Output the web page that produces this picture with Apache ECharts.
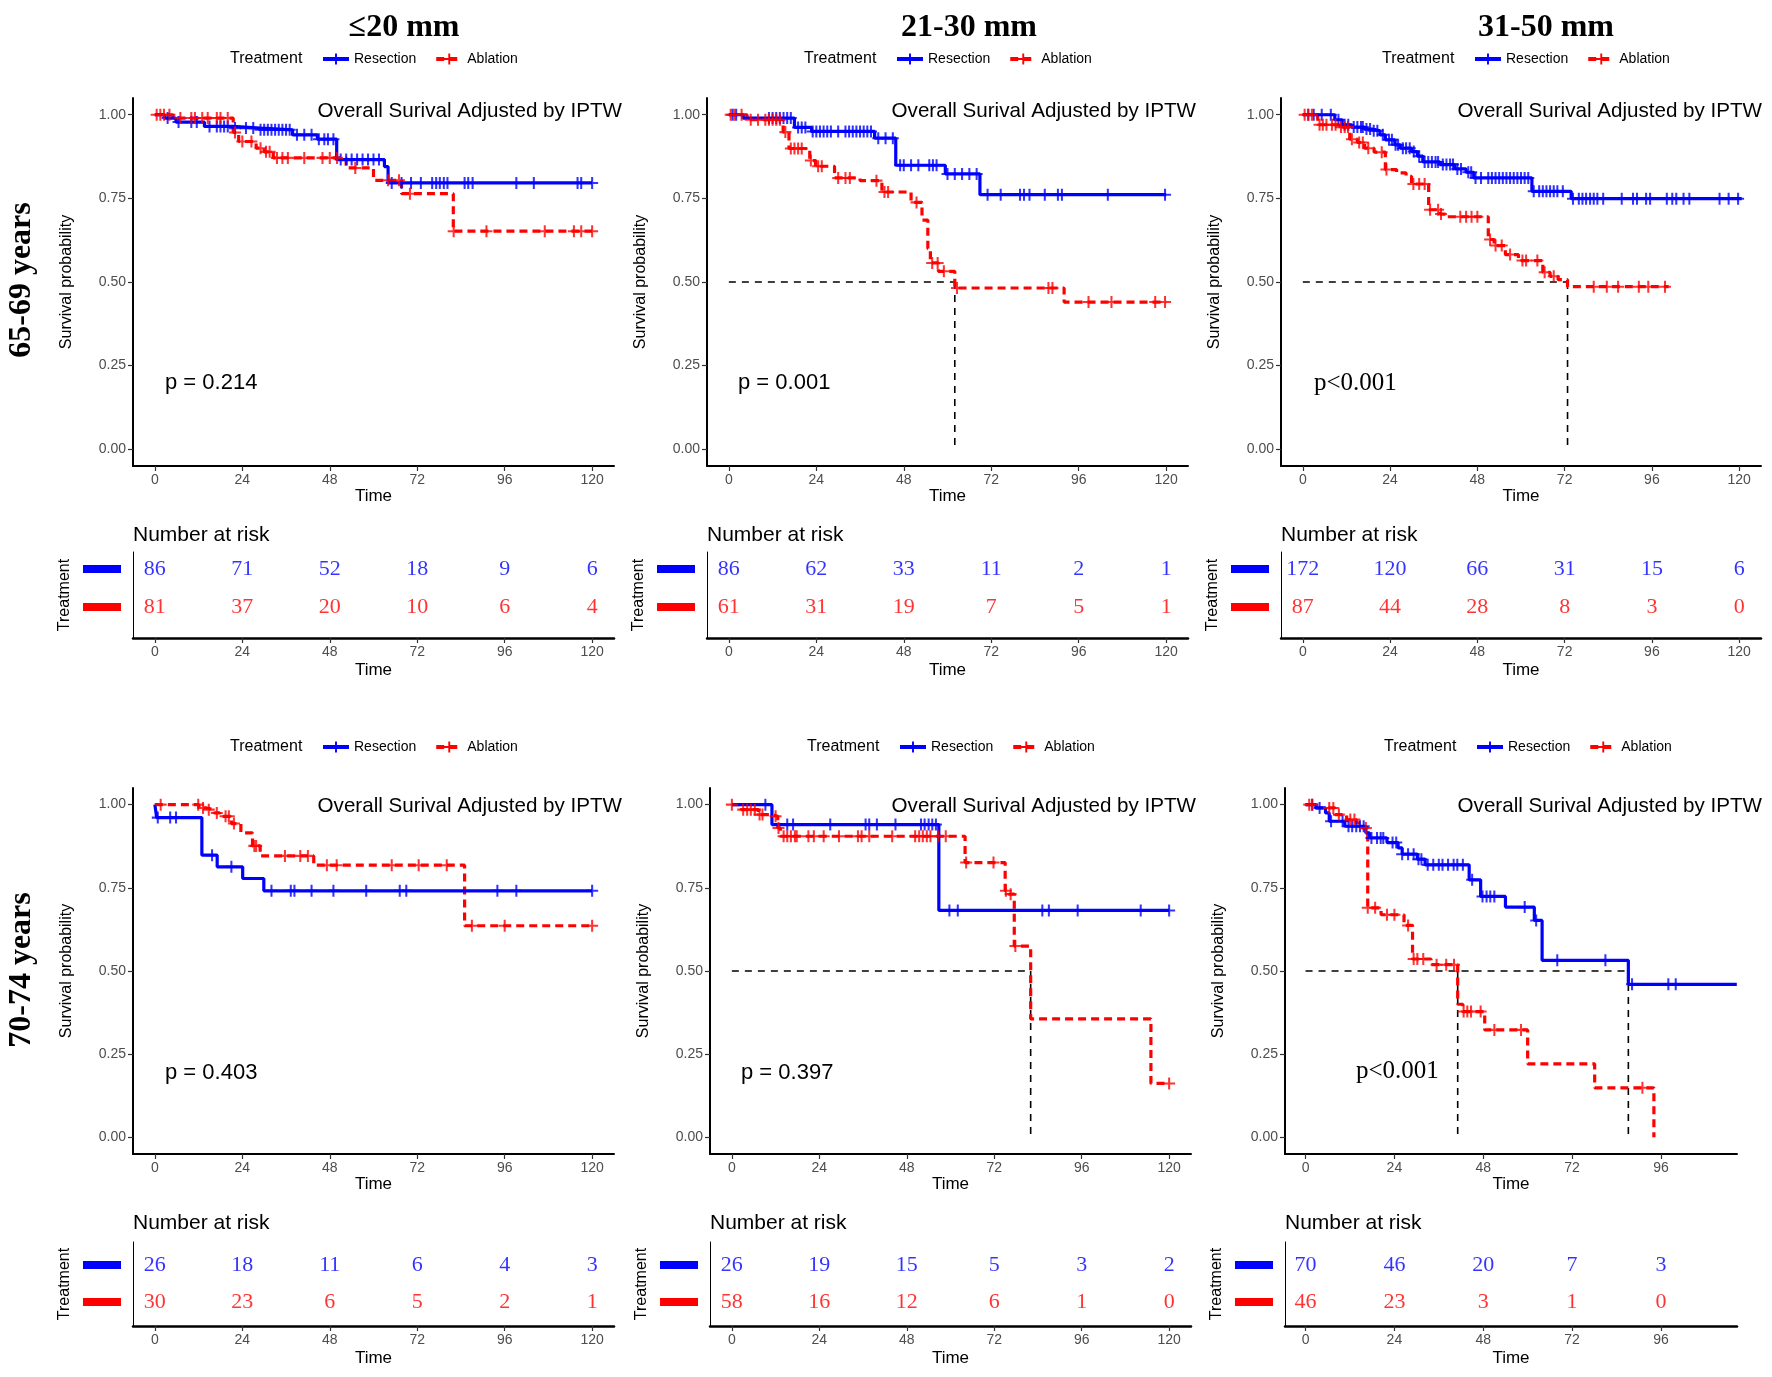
<!DOCTYPE html>
<html><head><meta charset="utf-8">
<script src="https://cdn.jsdelivr.net/npm/echarts@6/dist/echarts.min.js"></script>
<style>html,body{margin:0;padding:0;background:#fff}#c{width:1772px;height:1377px}</style>
</head><body><div id="c"></div>
<script>
// ---------------- DATA ----------------
const timeTicks = [0, 24, 48, 72, 96, 120];
const timeTicksF = [0, 24, 48, 72, 96];
const survTicks = [0, 0.25, 0.5, 0.75, 1];
const sizeTitles = ['≤20 mm', '21-30 mm', '31-50 mm'];
const ageTitles = ['65-69 years', '70-74 years'];
const groupNames = ['Resection', 'Ablation'];
const pValues = ['p = 0.214', 'p = 0.001', 'p<0.001', 'p = 0.403', 'p = 0.397', 'p<0.001'];

// Kaplan-Meier step curves: [time, survival]
const resA = [[0,1],[2.6,0.99],[5.8,0.978],[13.6,0.965],[21.5,0.96],[28.9,0.955],[37.8,0.94],[44.6,0.927],[49.9,0.866],[63,0.845],[64,0.796],[120,0.796]];
const ablA = [[0,1],[5,0.99],[21.5,0.947],[23,0.92],[27.8,0.90],[30,0.889],[32.5,0.871],[52.5,0.841],[60,0.804],[67.7,0.764],[81.9,0.652],[120,0.652]];
const resB = [[0,1],[3.9,0.99],[18,0.962],[22.7,0.95],[40,0.93],[45.8,0.849],[59.4,0.823],[68.9,0.761],[120,0.761]];
const ablB = [[0,1],[5,0.985],[14.9,0.948],[16.5,0.899],[22.2,0.863],[23.8,0.846],[29,0.811],[36,0.803],[42,0.769],[50,0.738],[53,0.685],[54.6,0.6],[55.3,0.557],[57.5,0.532],[62,0.482],[92,0.44],[120,0.44]];
const resC = [[0,1],[8.8,0.985],[10.8,0.97],[13.4,0.963],[17,0.957],[19,0.952],[21.2,0.94],[22.7,0.925],[25.3,0.91],[26.8,0.90],[29.9,0.89],[31.5,0.876],[33,0.859],[37.7,0.851],[41.8,0.838],[44.9,0.828],[47,0.811],[63,0.771],[73.8,0.749],[120.7,0.749]];
const ablC = [[0,1],[4.1,0.97],[9.8,0.963],[12.9,0.927],[15,0.917],[17,0.90],[19.6,0.888],[22.7,0.836],[25.8,0.826],[28.4,0.816],[29.9,0.793],[34.6,0.716],[37.7,0.703],[39.5,0.695],[51,0.627],[52.6,0.609],[55.7,0.582],[59.3,0.564],[66,0.529],[68,0.517],[70.2,0.507],[72.8,0.486],[100.6,0.486]];
const resD = [[0,1],[0.5,0.961],[12.9,0.848],[17.1,0.813],[24.1,0.778],[29.9,0.741],[120,0.741]];
const ablD = [[0,1],[12.1,0.99],[14.2,0.985],[16.3,0.975],[17.8,0.965],[21,0.943],[23.6,0.915],[26.8,0.876],[28.9,0.846],[43.6,0.818],[85,0.636],[120,0.636]];
const resE = [[0,1],[11,0.94],[56.8,0.682],[120,0.682]];
const ablE = [[0,1],[2.6,0.985],[7.3,0.97],[10.5,0.965],[12.6,0.93],[13.3,0.905],[64,0.826],[75,0.741],[76,0.731],[77.5,0.575],[82,0.356],[115,0.162],[120,0.162]];
const resF = [[0,1],[2.8,0.99],[5.4,0.975],[6.4,0.95],[10.6,0.935],[16.3,0.915],[17.3,0.90],[22,0.886],[25,0.87],[26.1,0.851],[30.2,0.836],[32.3,0.819],[44.2,0.774],[47.3,0.724],[54,0.692],[61.8,0.652],[63.9,0.532],[87.2,0.46],[116.5,0.46]];
const ablF = [[0,1],[2.3,0.99],[8,0.97],[11.1,0.955],[13.7,0.945],[15.2,0.93],[16.8,0.69],[20.4,0.669],[26.6,0.637],[28.9,0.536],[33.9,0.519],[41.1,0.40],[42.5,0.378],[48.4,0.323],[60,0.221],[78.1,0.149],[94.1,0]];

// censoring times
const resCensA = [3.5,6.5,10,11.5,15,17,18,19,20,22,25,27,29,30,31,32,33,34,35,36,37,39,41,43,45,46.5,47.5,49,51,52.5,54,55.5,57,58.5,60,61.5,65,67.7,70.3,73,76.1,77.2,78.2,79.3,80.3,85,86,87.2,99.2,104,116,117,120];
const ablCensA = [0.5,1.5,2.5,4,7,10,11,13,14.5,17,18,20,22,24,26.5,29,30.5,31.5,33.5,35,36.5,41,46,48,50,55,64,67,70,82,91,107,115,117,120];
const resCensB = [1,2,11,12,13,14,15,16,17,19,20,21,23,24,25,26,27,28,30,32,33,34,35,36,37,38,39,41,43,45,47,48,50,52,55,56,57,60,62,64,66,68,71,74.6,79.9,81,82.5,86.7,90.3,91.4,104,119.7];
const ablCensB = [0.5,1.5,3.5,6,8,10,11,12,13,14,15.5,17,18,19,20,22.5,24.5,25.5,30,32,33.2,40.5,42.7,43.7,51.5,55.8,57.3,59,62.6,87.7,88.8,98.7,105,117,119.7];
const resCensC = [1.5,3,5.2,7.7,9.8,11.5,12.5,14,15,16,16.5,17.5,18.5,19.5,20.5,22,23.7,24.5,25.5,26.2,27.5,28.4,29.4,30.5,32,33.5,34.5,35.5,36.5,37.2,38.5,39.5,40.5,41.3,42.5,43.5,45.5,46.3,47.5,49,51,52,53,54,55,56,57,58,59,60,61,62,63.5,65,66,67,68,69,70,71.5,74.3,75.9,76.9,77.9,79,80,81,82.6,87.7,90.8,91.9,94.4,95.5,100.1,101.6,102.7,104.7,106.3,114.6,117.1,119.7];
const ablCensC = [0.5,1.5,2.5,4.6,5.5,6.5,8,9,10.5,11.5,12.4,13.5,15.5,16.5,18,21.7,23,30.4,32,33.5,35,37.2,38,43.3,44.9,46.4,48,51.5,53,54.7,57,60.4,61.4,64.5,66.5,69,80,83.6,86.7,92.4,95,99.6];
const resCensD = [0.8,4.2,5.8,15.7,21,32,37.3,38.3,43,49,58,67.2,69,94,99.2,120];
const ablCensD = [1.6,11.9,13.2,14.8,17,19.4,20.3,21.7,27.3,27.8,35.7,39.9,42,47.2,49.9,65,72.4,80.1,87,96,120];
const resCensE = [9.2,15.2,16.8,27,36.7,37.7,39.8,44.9,51.9,52.9,54,55,56,59.7,62,85.2,87,94.9,112.2,120];
const ablCensE = [0,3.1,4.2,5.2,6.3,7.6,8.4,12,12.8,14.2,15.2,16.2,17.3,17.8,21,22.5,25.2,29.4,34.6,35.6,37.7,44,50.3,51.4,52.4,53.5,54.5,56.6,58.7,64.3,71.8,75.2,76.5,77.8,120];
const resCensF = [1.8,3.8,6.9,10,11.6,12.6,13.7,14.7,15.7,17.8,19.3,20.3,21,23.5,24.5,26.1,27.7,29.2,30.5,31.3,33,34.5,36,37,38.5,40,41,42.5,45,47.8,48.9,49.9,51,59.2,62.3,68,81,88.2,98,100];
const ablCensF = [1,1.8,6.4,7.5,9,12.1,13.2,16.3,16.8,18.8,22,24,27.7,29.2,30.2,31.8,35.4,38,40.1,42.7,43.7,44.7,47.3,51,58.2,91];

// median survival times (dashed reference lines)
const medA = [], medB = [62], medC = [72.8], medD = [], medE = [82], medF = [41.1, 87.2];

// numbers at risk
const riskResA = [86,71,52,18,9,6],   riskAblA = [81,37,20,10,6,4];
const riskResB = [86,62,33,11,2,1],   riskAblB = [61,31,19,7,5,1];
const riskResC = [172,120,66,31,15,6], riskAblC = [87,44,28,8,3,0];
const riskResD = [26,18,11,6,4,3],    riskAblD = [30,23,6,5,2,1];
const riskResE = [26,19,15,5,3,2],    riskAblE = [58,16,12,6,1,0];
const riskResF = [70,46,20,7,3],      riskAblF = [46,23,3,1,0];

// ---------------- LAYOUT / STYLE ----------------
const BLUE = '#0000ff', RED = '#ff0000';
const SANS = '"Liberation Sans", Arial, sans-serif';
const SERIF = '"Liberation Serif", "Times New Roman", serif';
const PLUS = 'path://M-1,-0.17H1V0.17H-1Z M-0.17,-1H0.17V1H-0.17Z';
const L = {
  mainLeft: [[133, 707, 1281], [133, 710, 1285]],
  mainWidth: [[481, 481, 480], [481, 481, 452]],
  mainTop: [98, 788], mainHeight: [368, 366],
  tabTop: [552, 1242], tabHeight: [86, 84],
  tabY: [[0.18, 2.45], [0.35, 2.62]],
  legIcon: [[321, 895, 1473], [321, 898, 1475]], legY: [59, 747],
  pPos: [[165, 383], [738, 383], [1314, 383], [165, 1073], [741, 1073], [1356, 1071]],
  ovsRight: [622, 1196, 1762], ovsY: [111, 806],
  nrY: [535, 1223],
  colTitleX: [404, 969, 1546], colTitleY: 28,
  rowLabelX: 22, rowLabelY: [280, 970]
};
const rangeStd = [-6, 126], rangeF = [-5.55, 116.55];

const panels = [
  {res: resA, abl: ablA, rc: resCensA, ac: ablCensA, med: medA, rr: riskResA, ra: riskAblA, ticks: timeTicks, range: rangeStd},
  {res: resB, abl: ablB, rc: resCensB, ac: ablCensB, med: medB, rr: riskResB, ra: riskAblB, ticks: timeTicks, range: rangeStd},
  {res: resC, abl: ablC, rc: resCensC, ac: ablCensC, med: medC, rr: riskResC, ra: riskAblC, ticks: timeTicks, range: rangeStd},
  {res: resD, abl: ablD, rc: resCensD, ac: ablCensD, med: medD, rr: riskResD, ra: riskAblD, ticks: timeTicks, range: rangeStd},
  {res: resE, abl: ablE, rc: resCensE, ac: ablCensE, med: medE, rr: riskResE, ra: riskAblE, ticks: timeTicks, range: rangeStd},
  {res: resF, abl: ablF, rc: resCensF, ac: ablCensF, med: medF, rr: riskResF, ra: riskAblF, ticks: timeTicksF, range: rangeF}
];

function survAt(curve, t) {
  let v = curve[0][1];
  for (const p of curve) { if (p[0] <= t) v = p[1]; else break; }
  return v;
}

const grids = [], xAxes = [], yAxes = [], series = [], legends = [], graphics = [];
const tickLabel = {color: '#4d4d4d', fontSize: 14, fontFamily: SANS};

// main plots: indices 0..5
panels.forEach((P, i) => {
  const r = Math.floor(i / 3), c = i % 3;
  grids.push({left: L.mainLeft[r][c], top: L.mainTop[r], width: L.mainWidth[r][c], height: L.mainHeight[r], outerBoundsMode: 'none', containLabel: false});
  xAxes.push({gridIndex: i, type: 'value', min: P.range[0], max: P.range[1],
    axisLine: {show: true, onZero: false, lineStyle: {color: '#000', width: 2}},
    axisTick: {show: true, customValues: P.ticks, length: 5, lineStyle: {color: '#333', width: 1.2}},
    axisLabel: Object.assign({customValues: P.ticks, margin: 7, formatter: v => String(v)}, tickLabel),
    splitLine: {show: false},
    name: 'Time', nameLocation: 'middle', nameGap: 22, nameTextStyle: {fontSize: 17, color: '#000', fontFamily: SANS}});
  yAxes.push({gridIndex: i, type: 'value', min: -0.05, max: 1.05,
    axisLine: {show: true, onZero: false, lineStyle: {color: '#000', width: 2}},
    axisTick: {show: true, customValues: survTicks, length: 5, lineStyle: {color: '#333', width: 1.2}},
    axisLabel: Object.assign({customValues: survTicks, margin: 7, formatter: v => v.toFixed(2)}, tickLabel),
    splitLine: {show: false},
    name: 'Survival probability', nameLocation: 'middle', nameGap: 58, nameTextStyle: {fontSize: 16, color: '#000', fontFamily: SANS}});

  // median reference lines
  if (P.med.length) {
    const mMax = Math.max(...P.med);
    const segs = [[[0, 0.5], [mMax, 0.5]]].concat(P.med.map(m => [[m, 0.5], [m, 0]]));
    segs.forEach(sg => series.push({type: 'line', xAxisIndex: i, yAxisIndex: i, data: sg, symbol: 'none', silent: true, animation: false, z: 1,
      lineStyle: {color: '#000', width: 1.6, type: [7, 6]}}));
  }
  series.push({type: 'line', name: groupNames[0], xAxisIndex: i, yAxisIndex: i, data: P.res, step: 'end',
    symbol: PLUS, symbolSize: 12, showSymbol: false, silent: true, animation: false, z: 3,
    lineStyle: {color: BLUE, width: 3.2}, itemStyle: {color: BLUE}});
  series.push({type: 'line', name: groupNames[1], xAxisIndex: i, yAxisIndex: i, data: P.abl, step: 'end',
    symbol: PLUS, symbolSize: 12, showSymbol: false, silent: true, animation: false, z: 2,
    lineStyle: {color: RED, width: 3.2, type: [8, 5]}, itemStyle: {color: RED}});
  series.push({type: 'scatter', name: 'cens-res-' + i, xAxisIndex: i, yAxisIndex: i,
    data: P.rc.map(t => [t, survAt(P.res, t)]), symbol: PLUS, symbolSize: 12, silent: true, animation: false, z: 4,
    itemStyle: {color: BLUE}});
  series.push({type: 'scatter', name: 'cens-abl-' + i, xAxisIndex: i, yAxisIndex: i,
    data: P.ac.map(t => [t, survAt(P.abl, t)]), symbol: PLUS, symbolSize: 12, silent: true, animation: false, z: 4,
    itemStyle: {color: RED}});

  legends.push({data: groupNames, left: L.legIcon[r][c], top: L.legY[r] - 7, padding: 0, itemWidth: 26, itemHeight: 14, itemGap: 18,
    selectedMode: false, lineStyle: {width: 4}, textStyle: {fontSize: 14, color: '#000', fontFamily: SANS}});

  graphics.push({type: 'text', x: L.legIcon[r][c] - 91, y: L.legY[r], silent: true,
    style: {text: 'Treatment', font: '16px ' + SANS, fill: '#000', align: 'left', verticalAlign: 'middle'}});
  graphics.push({type: 'text', x: L.ovsRight[c], y: L.ovsY[r], silent: true,
    style: {text: 'Overall Surival Adjusted by IPTW', font: '20.6px ' + SANS, fill: '#000', align: 'right', verticalAlign: 'middle'}});
  const serifP = pValues[i].indexOf('<') >= 0;
  graphics.push({type: 'text', x: L.pPos[i][0], y: L.pPos[i][1], silent: true,
    style: {text: pValues[i], font: serifP ? '25px ' + SERIF : '22px ' + SANS, fill: '#000', align: 'left', verticalAlign: 'middle'}});
  graphics.push({type: 'text', x: L.mainLeft[r][c], y: L.nrY[r], silent: true,
    style: {text: 'Number at risk', font: '21px ' + SANS, fill: '#000', align: 'left', verticalAlign: 'middle'}});
});

// risk tables: indices 6..11
panels.forEach((P, i) => {
  const r = Math.floor(i / 3), c = i % 3, g = 6 + i;
  grids.push({left: L.mainLeft[r][c], top: L.tabTop[r], width: L.mainWidth[r][c], height: L.tabHeight[r], outerBoundsMode: 'none', containLabel: false});
  xAxes.push({gridIndex: g, type: 'value', min: P.range[0], max: P.range[1],
    axisLine: {show: true, onZero: false, lineStyle: {color: '#000', width: 2.5}},
    axisTick: {show: true, customValues: P.ticks, length: 5, lineStyle: {color: '#333', width: 1.2}},
    axisLabel: Object.assign({customValues: P.ticks, margin: 7, formatter: v => String(v)}, tickLabel),
    splitLine: {show: false},
    name: 'Time', nameLocation: 'middle', nameGap: 24, nameTextStyle: {fontSize: 17, color: '#000', fontFamily: SANS}});
  yAxes.push({gridIndex: g, type: 'value', min: L.tabY[r][0], max: L.tabY[r][1],
    axisLine: {show: true, onZero: false, lineStyle: {color: '#000', width: 1}},
    axisTick: {show: false},
    axisLabel: {customValues: [1, 2], margin: 12, formatter: v => v === 2 ? '{b| }' : '{r| }',
      rich: {b: {backgroundColor: BLUE, width: 38, height: 8}, r: {backgroundColor: RED, width: 38, height: 8}}},
    splitLine: {show: false},
    name: 'Treatment', nameLocation: 'middle', nameGap: 60, nameTextStyle: {fontSize: 16, color: '#000', fontFamily: SANS}});
  [[P.rr, 2, BLUE], [P.ra, 1, RED]].forEach(([vals, row, col]) => {
    series.push({type: 'scatter', name: 'risk-' + row + '-' + i, xAxisIndex: g, yAxisIndex: g,
      data: P.ticks.map((t, k) => [t, row, vals[k]]), symbol: 'circle', symbolSize: 1, silent: true, animation: false,
      itemStyle: {color: 'rgba(0,0,0,0)'},
      label: {show: true, position: 'inside', formatter: p => String(p.value[2]), color: col, fontSize: 22, fontFamily: SERIF}});
  });
});

// column and row titles
sizeTitles.forEach((t, c) => graphics.push({type: 'text', x: L.colTitleX[c], y: L.colTitleY, silent: true,
  style: {text: t, font: 'bold 32px ' + SERIF, fill: '#000', align: 'center', verticalAlign: 'middle'}}));
ageTitles.forEach((t, r) => graphics.push({type: 'text', x: L.rowLabelX, y: L.rowLabelY[r], rotation: Math.PI / 2, silent: true,
  style: {text: t, font: 'bold 32px ' + SERIF, fill: '#000', align: 'center', verticalAlign: 'middle'}}));

const chart = echarts.init(document.getElementById('c'), null, {renderer: 'canvas', width: 1772, height: 1377});
chart.setOption({
  backgroundColor: '#fff', animation: false,
  grid: grids, xAxis: xAxes, yAxis: yAxes, series: series, legend: legends, graphic: graphics
});
</script>
</body></html>
